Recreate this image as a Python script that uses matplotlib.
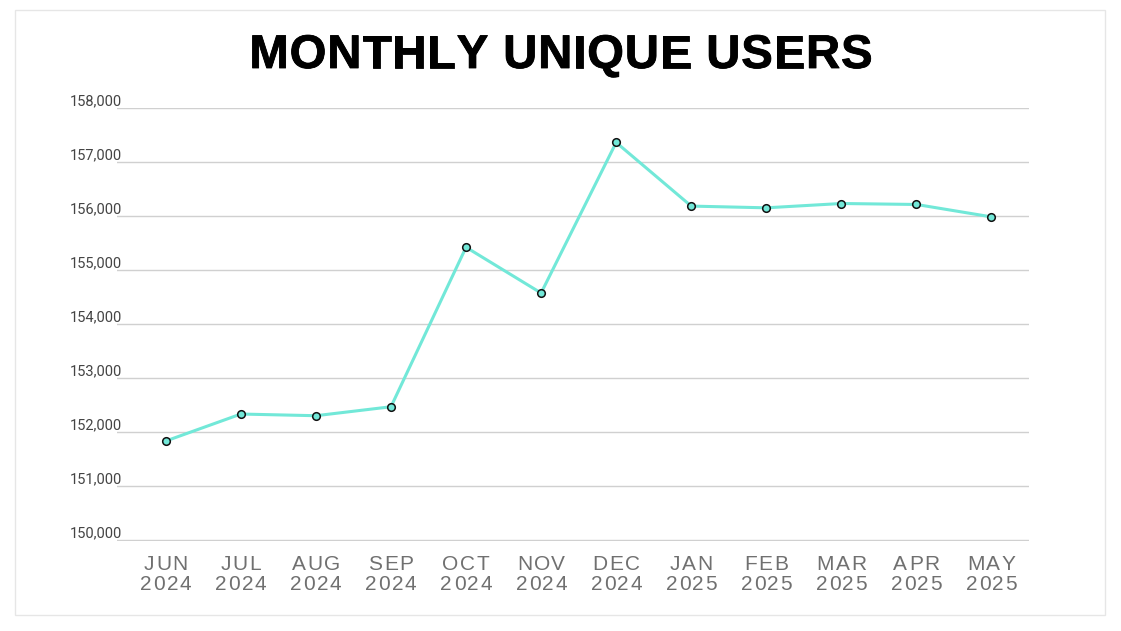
import matplotlib
matplotlib.use("Agg")
import matplotlib.pyplot as plt
from matplotlib.patches import Rectangle
from matplotlib.font_manager import FontProperties
from matplotlib.textpath import TextToPath
import matplotlib.patheffects as pe
import matplotlib.transforms as mtransforms

months = ["JUN", "JUL", "AUG", "SEP", "OCT", "NOV", "DEC",
          "JAN", "FEB", "MAR", "APR", "MAY"]
years = ["2024"] * 7 + ["2025"] * 5
users = [151833, 152333, 152302, 152468, 155424, 154576, 157366,
         156187, 156155, 156235, 156217, 155987]
y_ticks = [150000, 151000, 152000, 153000, 154000, 155000, 156000, 157000, 158000]

W, H, DPI = 1121, 631, 100
t2p = TextToPath()


def char_w(ch, fp):
    # width of one glyph in pixels
    w, _, _ = t2p.get_text_width_height_descent(ch, fp, ismath=False)
    return w * DPI / 72


def spaced_text(fig, cx, base_y, s, fp, spacing, color, effects=None):
    # draw text centred on cx, baseline at base_y (pixels), with letter spacing
    widths = [char_w(c, fp) for c in s]
    total = sum(widths) + spacing * (len(s) - 1)
    x = cx - total / 2
    for c, w in zip(s, widths):
        fig.text(x / W, 1 - base_y / H, c, fontproperties=fp, color=color,
                 ha="left", va="baseline", path_effects=effects)
        x += w + spacing


fig = plt.figure(figsize=(W / DPI, H / DPI), dpi=DPI)
fig.patches.append(Rectangle((15 / W, 1 - 615 / H), 1090 / W, 605 / H,
                             transform=fig.transFigure, fill=False,
                             edgecolor="#e6e6e6", linewidth=1))

ax = fig.add_axes([117 / W, 1 - 541 / H, 912 / W, 433 / H])
x = list(range(len(users)))
ax.plot(x, users, color="#72e8d8", linewidth=2.2, zorder=3)
ax.scatter(x, users, s=30, facecolor="#72e8d8", edgecolor="#111111",
           linewidth=1.1, zorder=4)

ax.set_xlim(-0.65, 11.5)
ax.set_ylim(149980, 158005)
ax.set_yticks(y_ticks)
ax.yaxis.grid(True, color="#d0d0d0", linewidth=1)
ax.set_axisbelow(True)
ax.tick_params(axis="y", length=0, labelleft=False)
ax.set_xticks([])
for s in ax.spines.values():
    s.set_visible(False)

# y labels sit above their gridlines, left aligned
trans = mtransforms.blended_transform_factory(fig.transFigure, ax.transData)
for v in y_ticks:
    ax.text(70 / W, v + 55, f"{v:,}", transform=trans, ha="left", va="baseline",
            fontsize=10.5, color="#444444", family=["Roboto", "DejaVu Sans"])

# letter-spaced month / year labels
tick_fp = FontProperties(family="Liberation Sans", size=15)
for i, (m, yr) in enumerate(zip(months, years)):
    px = ax.transData.transform((i, 150000))[0]
    spaced_text(fig, px, 570, m, tick_fp, 1.6, "#707070")
    spaced_text(fig, px, 590, yr, tick_fp, 1.6, "#707070")

# title: bold, thickened a little with a stroke
title_fp = FontProperties(family="Liberation Sans", weight="bold", size=34)
spaced_text(fig, 561, 68, "MONTHLY UNIQUE USERS", title_fp, 0.9, "black",
            effects=[pe.withStroke(linewidth=0.6, foreground="black")])

fig.savefig("out.png", dpi=DPI)
